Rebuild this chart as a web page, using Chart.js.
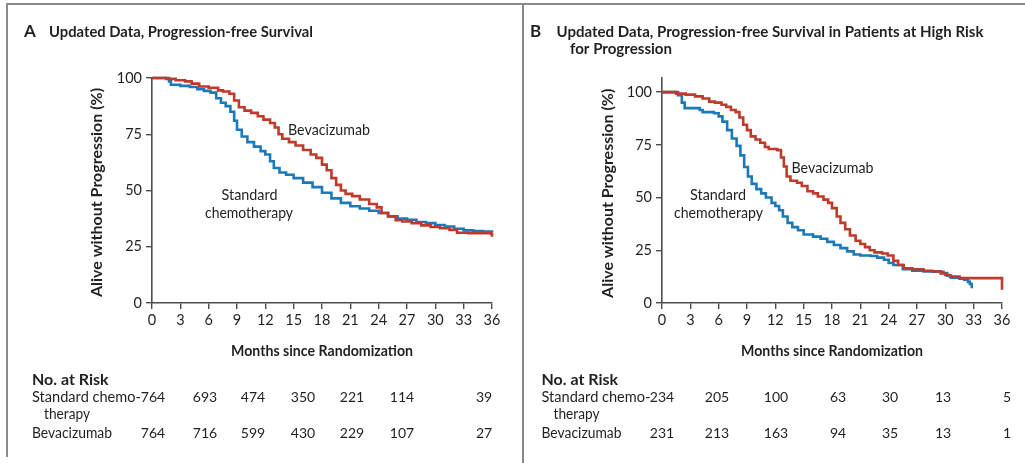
<!DOCTYPE html>
<html>
<head>
<meta charset="utf-8">
<script src="https://cdn.jsdelivr.net/npm/chart.js@4.4.1/dist/chart.umd.min.js"></script>
<style>
  html, body { margin: 0; padding: 0; background: #ffffff; }
  #wrap { position: relative; width: 1025px; height: 463px; overflow: hidden; background: #ffffff; }
  #wrap canvas { position: absolute; left: 0; top: 0; }
  .rule { position: absolute; background: #8a8a8a; }
</style>
</head>
<body>
<div id="wrap">
  <div class="rule" style="left:6px; top:3px; width:1019px; height:1.6px;"></div>
  <div class="rule" style="left:6px; top:3px; width:1.6px; height:454px;"></div>
  <div class="rule" style="left:522px; top:3px; width:1.6px; height:460px;"></div>
  <canvas id="chartA" width="1025" height="463"></canvas>
  <canvas id="chartB" width="1025" height="463"></canvas>
</div>
<script>
// ---------- Panel A: all patients ----------
const monthsA_std = [0, 1.8, 2.0, 3.0, 4.0, 4.8, 5.5, 6.2, 6.8, 7.3, 7.8, 8.3, 8.7, 9.0, 9.5, 10.1, 10.8, 11.5, 12.0, 12.5, 12.9, 13.5, 14.2, 15.0, 16.0, 17.0, 18.0, 19.0, 20.0, 21.0, 22.0, 23.0, 24.0, 25.0, 26.0, 27.0, 28.0, 29.0, 30.0, 31.0, 32.0, 33.0, 34.0, 35.0, 36.0];
const pfsA_std    = [100, 98.5, 97, 96.5, 96, 95, 94.3, 93.5, 91, 89, 87.5, 85, 81, 77, 74, 71.5, 69.5, 67.5, 66, 63, 60, 58, 57, 55.5, 53.5, 51.5, 49, 46.5, 44.5, 43, 42, 41, 40, 38.5, 37.5, 37, 36, 35.5, 34.7, 34, 33, 32.3, 32, 31.8, 31.5];

const monthsA_bev = [0, 1.5, 2.5, 3.5, 4.2, 5.0, 6.0, 7.0, 7.5, 8.2, 8.7, 9.2, 9.8, 10.5, 11.2, 11.8, 12.5, 13.0, 13.4, 13.8, 14.5, 15.2, 16.0, 16.8, 17.4, 18.0, 18.5, 19.0, 19.5, 20.0, 20.5, 21.2, 22.0, 23.0, 23.8, 24.3, 25.0, 25.8, 26.5, 27.5, 28.5, 29.5, 30.5, 31.5, 32.3, 33.5, 35.0, 35.9, 36.0];
const pfsA_bev    = [100, 99.6, 99, 98.5, 97.5, 96.2, 95.7, 94.5, 94, 93, 90, 87, 85.5, 84.5, 83, 81.5, 80, 78, 75, 73, 71.5, 70, 68, 66, 64.5, 61.5, 59, 55.5, 52.5, 50, 48.5, 47.5, 46, 44, 42.5, 40, 38.5, 36.8, 36.2, 35.5, 34.5, 33.8, 33.2, 32.5, 31.2, 31, 31, 30.8, 29.5];

// ---------- Panel B: patients at high risk for progression ----------
const monthsB_std = [0, 1.7, 2.1, 2.4, 3.5, 4.0, 4.3, 5.5, 6.0, 6.4, 6.9, 7.4, 7.9, 8.3, 8.7, 9.1, 9.5, 10.0, 10.5, 11.0, 11.6, 12.0, 12.4, 12.8, 13.3, 13.8, 14.4, 15.0, 16.0, 16.8, 17.5, 18.2, 18.9, 19.6, 20.3, 21.0, 22.1, 22.8, 23.5, 24.0, 24.5, 25.5, 26.5, 27.7, 28.8, 29.8, 30.2, 30.6, 31.5, 32.0, 32.4, 32.6, 32.8];
const pfsB_std    = [100, 98.5, 95, 92.4, 92.4, 91.5, 90.5, 90, 88.5, 86, 82, 78, 74.5, 70, 64.5, 60, 56.5, 54, 52, 50, 47.5, 46, 44, 41, 38, 36, 34.5, 32.5, 31.5, 30.5, 29, 27.5, 26, 24.5, 23, 22.5, 22.3, 21.5, 20.5, 19, 18, 16, 15.3, 15, 14.8, 14.2, 13, 12, 11.5, 11, 10, 9, 7];

const monthsB_bev = [0, 1.5, 2.5, 3.5, 4.3, 5.0, 5.6, 6.3, 6.8, 7.3, 7.8, 8.2, 8.6, 9.0, 9.4, 9.9, 10.4, 10.9, 11.3, 12.2, 12.6, 12.9, 13.2, 13.6, 14.3, 14.8, 15.4, 16.0, 16.5, 17.1, 17.6, 18.0, 18.5, 18.9, 19.4, 19.9, 20.5, 21.0, 21.5, 22.0, 22.5, 23.3, 23.9, 24.5, 25.0, 25.6, 26.5, 27.7, 28.6, 29.5, 30.0, 30.5, 31.5, 33.0, 35.9, 36.0];
const pfsB_bev    = [100, 99.3, 98.8, 98, 97, 95.5, 95, 94, 93, 91.5, 90.5, 88, 84.5, 82, 79, 77.5, 76, 74, 73, 72.5, 69, 64.7, 60, 58, 57, 55.5, 53, 52, 50.5, 49, 47.5, 45, 41, 38, 35, 32, 29.5, 28, 26.5, 25, 24, 23.5, 22.5, 20, 18, 16.5, 16, 15.3, 15, 14, 13.3, 12.5, 11.8, 11.8, 11.8, 6.3];

// ---------- Numbers at risk ----------
const riskMonths = [0, 6, 12, 18, 24, 30, 36];
const riskA_std = [764, 693, 474, 350, 221, 114, 39];
const riskA_bev = [764, 716, 599, 430, 229, 107, 27];
const riskB_std = [234, 205, 100, 63, 30, 13, 5];
const riskB_bev = [231, 213, 163, 94, 35, 13, 1];

// ---------- Axis ticks ----------
const xTickStep = 3;
const yTickValues = [0, 25, 50, 75, 100];

// ---------- Styling ----------
const FONT = 'Lato, "Open Sans", sans-serif';
const INK = '#231f20';
const AXIS = '#4d4d4d';
const RED = '#c03a2b';
const BLUE = '#1b79b9';

function toPoints(xs, ys) {
  return xs.map((x, i) => ({ x: x, y: ys[i] }));
}

// Draws titles, axis titles, curve labels and the numbers-at-risk table
const annotationPlugin = {
  id: 'annotations',
  afterDraw(chart, args, opts) {
    const ctx = chart.ctx;
    ctx.save();
    ctx.fillStyle = INK;
    (opts.items || []).forEach(it => {
      ctx.save();
      ctx.font = it.font;
      ctx.textAlign = it.align || 'left';
      ctx.textBaseline = 'alphabetic';
      ctx.translate(it.x, it.y);
      if (it.rotate) ctx.rotate(it.rotate);
      if (it.maxWidth) ctx.fillText(it.text, 0, 0, it.maxWidth);
      else ctx.fillText(it.text, 0, 0);
      ctx.restore();
    });
    ctx.restore();
  }
};

function riskItems(columns, stdRow, bevRow, left) {
  const label = '400 15.5px ' + FONT;
  const items = [
    { text: 'No. at Risk', x: left, y: 385, font: '700 16px ' + FONT, maxWidth: 83 },
    { text: 'Standard chemo-', x: left, y: 401.5, font: label, maxWidth: 109 },
    { text: 'therapy', x: left + 12, y: 418.5, font: label, maxWidth: 46 },
    { text: 'Bevacizumab', x: left, y: 438, font: label, maxWidth: 80 }
  ];
  columns.forEach((cx, i) => {
    items.push({ text: String(stdRow[i]), x: cx, y: 401.5, font: '400 14px ' + FONT, align: 'center' });
    items.push({ text: String(bevRow[i]), x: cx, y: 438, font: '400 14px ' + FONT, align: 'center' });
  });
  return items;
}

function makeChart(id, cfg) {
  const area = cfg.area;
  return new Chart(document.getElementById(id), {
    type: 'line',
    data: {
      datasets: [
        { label: 'Bevacizumab', data: cfg.bev, borderColor: RED, borderWidth: 2.6, stepped: true, pointRadius: 0, fill: false, clip: false },
        { label: 'Standard chemotherapy', data: cfg.std, borderColor: BLUE, borderWidth: 2.6, stepped: true, pointRadius: 0, fill: false, clip: false }
      ]
    },
    options: {
      responsive: false,
      devicePixelRatio: 1,
      animation: false,
      events: [],
      layout: { padding: { left: 0, top: area.top, right: 1025 - area.right, bottom: 0 } },
      plugins: {
        legend: { display: false },
        tooltip: { enabled: false },
        annotations: { items: cfg.items }
      },
      scales: {
        x: {
          type: 'linear',
          min: 0, max: 36,
          afterFit: s => { s.height = 463 - area.bottom; },
          ticks: { stepSize: xTickStep, color: INK, font: { family: FONT, size: 14.5 }, padding: 3, maxRotation: 0 },
          grid: { drawOnChartArea: false, drawTicks: true, tickLength: 6, color: AXIS, lineWidth: 1.4 },
          border: { color: AXIS, width: 1.6 }
        },
        y: {
          type: 'linear',
          min: 0, max: cfg.yMax,
          afterFit: s => { s.width = area.left; },
          afterBuildTicks: s => { s.ticks = yTickValues.map(v => ({ value: v })); },
          ticks: { color: INK, font: { family: FONT, size: 14.5 }, padding: 4 },
          grid: { drawOnChartArea: false, drawTicks: true, tickLength: 6, color: AXIS, lineWidth: 1.4 },
          border: { color: AXIS, width: 1.6 }
        }
      }
    },
    plugins: [annotationPlugin]
  });
}

function draw() {
  Chart.defaults.font.family = FONT;
  const curve = '400 16px ' + FONT;
  const head = '700 15.5px ' + FONT;
  const axisTitle = '700 16px ' + FONT;

  const itemsA = [
    { text: 'A', x: 24, y: 36.7, font: '700 17px ' + FONT },
    { text: 'Updated Data, Progression-free Survival', x: 49, y: 36.7, font: head, maxWidth: 264 },
    { text: 'Alive without Progression (%)', x: 102, y: 192.5, font: axisTitle, align: 'center', rotate: -Math.PI / 2, maxWidth: 211 },
    { text: 'Months since Randomization', x: 322, y: 356, font: axisTitle, align: 'center', maxWidth: 182 },
    { text: 'Bevacizumab', x: 288, y: 135, font: curve, maxWidth: 82 },
    { text: 'Standard', x: 249.5, y: 200, font: curve, align: 'center', maxWidth: 56 },
    { text: 'chemotherapy', x: 249, y: 218, font: curve, align: 'center', maxWidth: 88 }
  ].concat(riskItems([153, 205, 253, 303, 352, 402, 484], riskA_std, riskA_bev, 32));

  const itemsB = [
    { text: 'B', x: 530, y: 36.7, font: '700 17px ' + FONT },
    { text: 'Updated Data, Progression-free Survival in Patients at High Risk', x: 556.5, y: 36.7, font: head, maxWidth: 427 },
    { text: 'for Progression', x: 570, y: 53.5, font: head, maxWidth: 102 },
    { text: 'Alive without Progression (%)', x: 613, y: 193.3, font: axisTitle, align: 'center', rotate: -Math.PI / 2, maxWidth: 213 },
    { text: 'Months since Randomization', x: 832, y: 356, font: axisTitle, align: 'center', maxWidth: 182 },
    { text: 'Bevacizumab', x: 791.5, y: 173.3, font: curve, maxWidth: 82 },
    { text: 'Standard', x: 718, y: 200, font: curve, align: 'center', maxWidth: 56 },
    { text: 'chemotherapy', x: 718.5, y: 217.5, font: curve, align: 'center', maxWidth: 89 }
  ].concat(riskItems([662, 717, 776, 838, 890, 943, 1007], riskB_std, riskB_bev, 541.5));

  makeChart('chartA', {
    area: { left: 152, right: 492, top: 78, bottom: 303 },
    yMax: 100,
    std: toPoints(monthsA_std, pfsA_std),
    bev: toPoints(monthsA_bev, pfsA_bev),
    items: itemsA
  });
  makeChart('chartB', {
    area: { left: 662, right: 1002, top: 78, bottom: 303 },
    yMax: 106.7,
    std: toPoints(monthsB_std, pfsB_std),
    bev: toPoints(monthsB_bev, pfsB_bev),
    items: itemsB
  });
}

Promise.all([
  document.fonts.load('400 15px Lato'),
  document.fonts.load('700 15px Lato')
]).then(draw, draw);
</script>
</body>
</html>
